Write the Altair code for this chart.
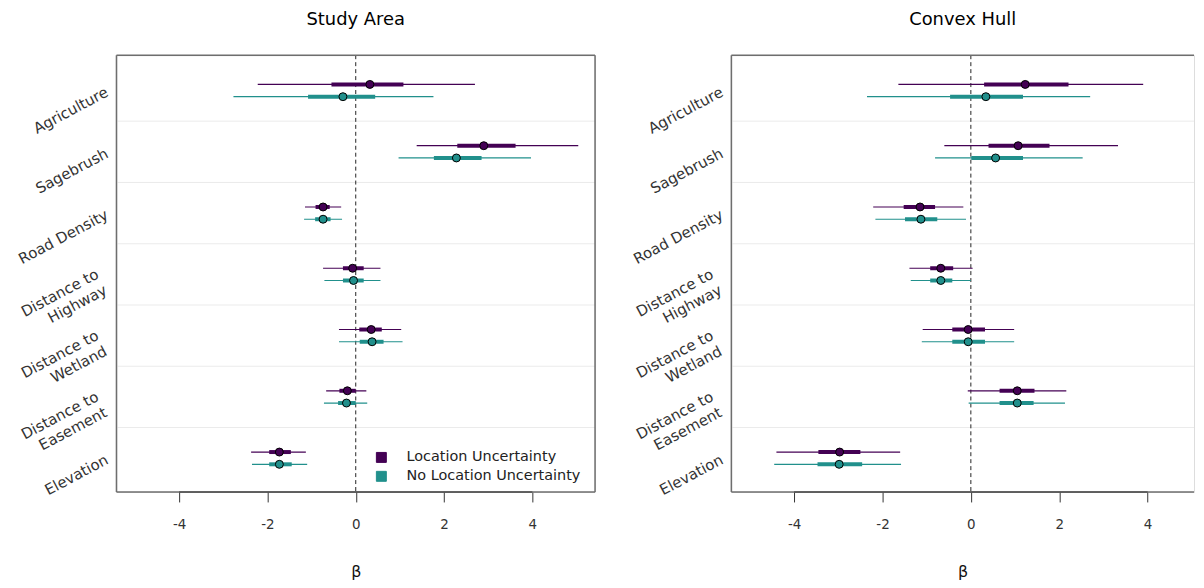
import altair as alt
import pandas as pd

# ---------------- data ----------------
TERMS = ["Agriculture", "Sagebrush", "Road Density", "Distance to|Highway",
         "Distance to|Wetland", "Distance to|Easement", "Elevation"]
SERIES = ["Location Uncertainty", "No Location Uncertainty"]
COLORS = ["#440154", "#21908C"]
X_TICKS = [-4, -2, 0, 2, 4]

# Study Area - Location Uncertainty
sa_lu_est = [0.32, 2.90, -0.74, -0.07, 0.35, -0.19, -1.73]
sa_lu_lo95 = [-2.22, 1.38, -1.15, -0.74, -0.38, -0.67, -2.37]
sa_lu_hi95 = [2.70, 5.04, -0.33, 0.56, 1.03, 0.24, -1.13]
sa_lu_lo50 = [-0.55, 2.30, -0.91, -0.29, 0.08, -0.37, -1.96]
sa_lu_hi50 = [1.08, 3.62, -0.59, 0.18, 0.59, 0.00, -1.47]
# Study Area - No Location Uncertainty
sa_nl_est = [-0.29, 2.28, -0.74, -0.05, 0.37, -0.21, -1.73]
sa_nl_lo95 = [-2.77, 0.97, -1.17, -0.71, -0.38, -0.72, -2.35]
sa_nl_hi95 = [1.76, 3.97, -0.31, 0.56, 1.06, 0.26, -1.10]
sa_nl_lo50 = [-1.08, 1.77, -0.92, -0.29, 0.09, -0.40, -1.96]
sa_nl_hi50 = [0.44, 2.85, -0.57, 0.18, 0.63, 0.00, -1.45]

# Convex Hull - Location Uncertainty
ch_lu_est = [1.23, 1.07, -1.15, -0.68, -0.06, 1.05, -2.97]
ch_lu_lo95 = [-1.64, -0.60, -2.21, -1.39, -1.09, -0.07, -4.40]
ch_lu_hi95 = [3.90, 3.33, -0.17, 0.04, 0.98, 2.16, -1.60]
ch_lu_lo50 = [0.30, 0.40, -1.52, -0.92, -0.42, 0.65, -3.45]
ch_lu_hi50 = [2.21, 1.78, -0.81, -0.40, 0.32, 1.44, -2.50]
# Convex Hull - No Location Uncertainty
ch_nl_est = [0.34, 0.56, -1.13, -0.68, -0.06, 1.05, -2.98]
ch_nl_lo95 = [-2.35, -0.81, -2.16, -1.36, -1.11, -0.05, -4.45]
ch_nl_hi95 = [2.70, 2.53, -0.11, 0.00, 0.98, 2.13, -1.58]
ch_nl_lo50 = [-0.47, 0.01, -1.49, -0.92, -0.42, 0.65, -3.47]
ch_nl_hi50 = [1.18, 1.18, -0.76, -0.42, 0.32, 1.42, -2.46]

SERIES_OFFSET = [0.1, -0.1]
X_DOMAIN = [-5.42, 5.42]
X_DOMAIN_CUT = [-5.42, 5.05]   # right panel is cut off by the page edge
Y_DOMAIN = [0.448, 7.577]

W, W_CUT, H = 481, 465, 439
FONT = "DejaVu Sans"
BORDER = "#6e6e6e"
PAD_CHAR = "\u2800"   # blank glyph (not trimmed) to nudge multi-line labels left


def build_df(lu, nl):
    rows = []
    n = len(TERMS)
    for s_i, arrs in enumerate([lu, nl]):
        est, lo95, hi95, lo50, hi50 = arrs
        for i in range(n):
            rows.append({
                "term": TERMS[i],
                "series": SERIES[s_i],
                "ypos": (n - i) + SERIES_OFFSET[s_i],
                "est": est[i], "lo95": lo95[i], "hi95": hi95[i],
                "lo50": lo50[i], "hi50": hi50[i],
            })
    return pd.DataFrame(rows)


sa_df = build_df([sa_lu_est, sa_lu_lo95, sa_lu_hi95, sa_lu_lo50, sa_lu_hi50],
                 [sa_nl_est, sa_nl_lo95, sa_nl_hi95, sa_nl_lo50, sa_nl_hi50])
ch_df = build_df([ch_lu_est, ch_lu_lo95, ch_lu_hi95, ch_lu_lo50, ch_lu_hi50],
                 [ch_nl_est, ch_nl_lo95, ch_nl_hi95, ch_nl_lo50, ch_nl_hi50])

n_terms = len(TERMS)


def disp(t):
    if "|" in t:
        return "|".join(part + PAD_CHAR for part in t.split("|"))
    return t


label_array = "[''," + ",".join("'" + disp(t) + "'" for t in reversed(TERMS)) + "]"
label_expr = "split(" + label_array + "[datum.value], '|')"
multi_test = "indexof(" + label_array + "[datum.value], '|') >= 0"
bounds_df = pd.DataFrame({"b": [k + 0.5 for k in range(1, n_terms)]})
one_df = pd.DataFrame({"k": [0]})

ysc = alt.Scale(domain=Y_DOMAIN, nice=False, zero=False)
csc = alt.Scale(domain=SERIES, range=COLORS)

x_axis = alt.Axis(values=X_TICKS, title="β", grid=False, domain=False,
                  tickSize=10, tickColor="#333333", tickWidth=1,
                  labelFontSize=13.5, labelFont=FONT, labelColor="#333333",
                  labelExpr="datum.value + ''",
                  labelPadding=16, titlePadding=32, titleFontSize=16,
                  titleFont=FONT, titleFontWeight="normal", titleColor="#111111")
y_axis = alt.Axis(values=list(range(1, n_terms + 1)), title=None, grid=False,
                  domain=False, ticks=False, labelExpr=label_expr,
                  labelAngle=-28, labelAlign="right", labelBaseline="middle",
                  labelFontSize=15, labelFont=FONT, labelColor="#333333",
                  labelPadding=10, labelLineHeight=18, labelOverlap=False,
                  labelOffset={"condition": {"test": multi_test, "value": -7},
                               "value": 0},
                  labelLimit=0, minExtent=103, maxExtent=103)

legend = alt.Legend(title=None, orient="none", legendX=259, legendY=397,
                    symbolType="square", symbolSize=100,
                    symbolStrokeColor="black", symbolStrokeWidth=1,
                    symbolOpacity=1, labelFontSize=14.5, labelFont=FONT,
                    labelColor="#222222", rowPadding=3, labelOffset=18,
                    labelLimit=0, padding=0)


def panel(df, title, xdom, width, right_border):
    xsc = alt.Scale(domain=xdom, nice=False, zero=False)
    base = alt.Chart(df)
    color = alt.Color("series:N", scale=csc, legend=legend)
    grid = alt.Chart(bounds_df).mark_rule(color="#ebebeb", strokeWidth=1).encode(
        y=alt.Y("b:Q", scale=ysc, axis=y_axis)
    )
    zero = alt.Chart(one_df).mark_rule(
        color="#222222", strokeDash=[4, 3], strokeWidth=1
    ).encode(x=alt.XDatum(0, type="quantitative", scale=xsc, axis=x_axis))
    axline = alt.Chart(one_df).mark_rule(color="#333333", strokeWidth=1.2).encode(
        x=alt.XDatum(X_TICKS[0], type="quantitative", scale=xsc, axis=x_axis),
        x2=alt.X2Datum(X_TICKS[-1]),
        y=alt.YDatum(Y_DOMAIN[0], type="quantitative", scale=ysc, axis=y_axis),
    )
    thin = base.mark_rule(strokeWidth=1.2).encode(
        x=alt.X("lo95:Q", scale=xsc, axis=x_axis),
        x2="hi95:Q",
        y=alt.Y("ypos:Q", scale=ysc, axis=y_axis),
        color=color,
    )
    thick = base.mark_rule(strokeWidth=4).encode(
        x=alt.X("lo50:Q", scale=xsc, axis=x_axis),
        x2="hi50:Q",
        y=alt.Y("ypos:Q", scale=ysc, axis=y_axis),
        color=color,
    )
    pts = base.mark_circle(size=64, opacity=1, stroke="black", strokeWidth=1).encode(
        x=alt.X("est:Q", scale=xsc, axis=x_axis),
        y=alt.Y("ypos:Q", scale=ysc, axis=y_axis),
        color=color,
    )
    border_h = [
        alt.Chart(one_df).mark_rule(color=BORDER, strokeWidth=1.5).encode(
            y=alt.YDatum(v, type="quantitative", scale=ysc, axis=y_axis))
        for v in Y_DOMAIN
    ]
    x_edges = [xdom[0], xdom[1]] if right_border else [xdom[0]]
    border_v = [
        alt.Chart(one_df).mark_rule(color=BORDER, strokeWidth=1.5).encode(
            x=alt.XDatum(v, type="quantitative", scale=xsc, axis=x_axis))
        for v in x_edges
    ]
    layers = [grid, zero] + border_h + border_v + [axline, thin, thick, pts]
    return alt.layer(*layers).properties(
        width=width, height=H,
        title=alt.TitleParams(title, fontSize=18, fontWeight="normal",
                              font=FONT, color="#000000", frame="group",
                              anchor="middle", offset=26),
    )


chart = alt.hconcat(
    panel(sa_df, "Study Area", X_DOMAIN, W, True),
    panel(ch_df, "Convex Hull", X_DOMAIN_CUT, W_CUT, False),
    spacing=31,
).properties(
    padding={"top": 0, "left": 5, "right": 0, "bottom": 0}
).configure_view(stroke="transparent").configure(font=FONT)

chart.save("out.html", embed_options={"renderer": "svg", "actions": False})
